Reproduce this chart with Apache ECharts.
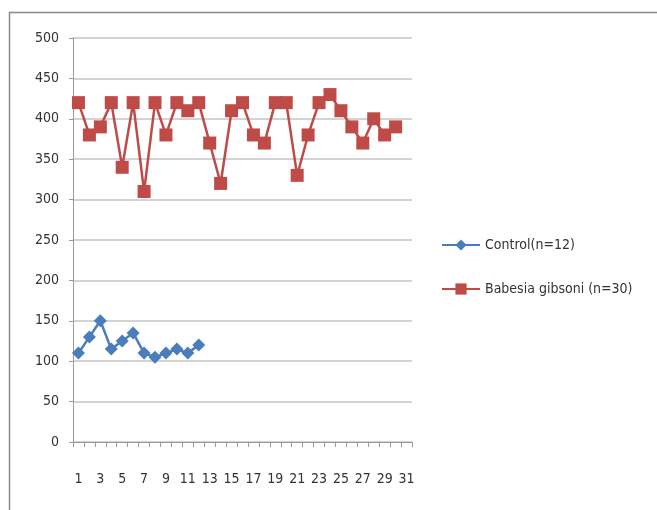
<!DOCTYPE html>
<html>
<head>
<meta charset="utf-8">
<script src="https://cdn.jsdelivr.net/npm/echarts@6/dist/echarts.min.js"></script>
<style>
  html, body { margin: 0; padding: 0; background: #fff; }
  #chart { width: 657px; height: 510px; }
</style>
</head>
<body>
<div id="chart"></div>
<script>
  // x categories 1..31
  var days = ['1','2','3','4','5','6','7','8','9','10','11','12','13','14','15','16',
              '17','18','19','20','21','22','23','24','25','26','27','28','29','30','31']
  var controlValues = [110, 130, 150, 115, 125, 135, 110, 105, 110, 115, 110, 120]
  var babesiaValues = [420, 380, 390, 420, 340, 420, 310, 420, 380, 420, 410, 420, 370, 320, 410,
                       420, 380, 370, 420, 420, 330, 380, 420, 430, 410, 390, 370, 400, 380, 390]
  var controlName = 'Control(n=12)'
  var babesiaName = 'Babesia gibsoni (n=30)'

  var font = '"DejaVu Sans Condensed", "Liberation Sans", sans-serif'
  var chart = echarts.init(document.getElementById('chart'))
  chart.setOption({
    animation: false,
    textStyle: { fontFamily: font },
    graphic: [{
      type: 'rect',
      shape: { x: 9.5, y: 12.5, width: 700, height: 600 },
      style: { fill: 'none', stroke: '#8a8a8a', lineWidth: 1.5 },
      silent: true
    }],
    grid: { left: 73, right: 245, top: 38, bottom: 68 },
    legend: {
      orient: 'vertical',
      left: 436,
      top: 233,
      itemGap: 30,
      itemWidth: 38,
      itemHeight: 14,
      itemStyle: {},
      textStyle: { fontFamily: font, fontSize: 14, color: '#333' },
      data: [controlName, babesiaName]
    },
    xAxis: {
      type: 'category',
      data: days,
      boundaryGap: true,
      axisLine: { lineStyle: { color: '#999' } },
      axisTick: { show: true, alignWithLabel: false, interval: 0, length: 5, lineStyle: { color: '#999' } },
      axisLabel: { interval: 1, margin: 30, fontSize: 14, color: '#333', fontFamily: font }
    },
    yAxis: {
      type: 'value',
      min: 0,
      max: 500,
      interval: 50,
      axisLine: { show: true, lineStyle: { color: '#999' } },
      axisTick: { show: true, length: 4, lineStyle: { color: '#999' } },
      splitLine: { lineStyle: { color: '#c4c4c4', width: 1.5 } },
      axisLabel: { margin: 14, fontSize: 14, color: '#333', fontFamily: font }
    },
    series: [{
      name: controlName,
      type: 'line',
      data: controlValues,
      symbol: 'diamond',
      symbolSize: 13,
      showAllSymbol: true,
      itemStyle: { color: '#4a7ebb' },
      lineStyle: { color: '#4a7ebb', width: 2.5 }
    }, {
      name: babesiaName,
      type: 'line',
      data: babesiaValues,
      symbol: 'rect',
      symbolSize: 13,
      showAllSymbol: true,
      itemStyle: { color: '#be4b48' },
      lineStyle: { color: '#be4b48', width: 2.5 }
    }]
  })
</script>
</body>
</html>
